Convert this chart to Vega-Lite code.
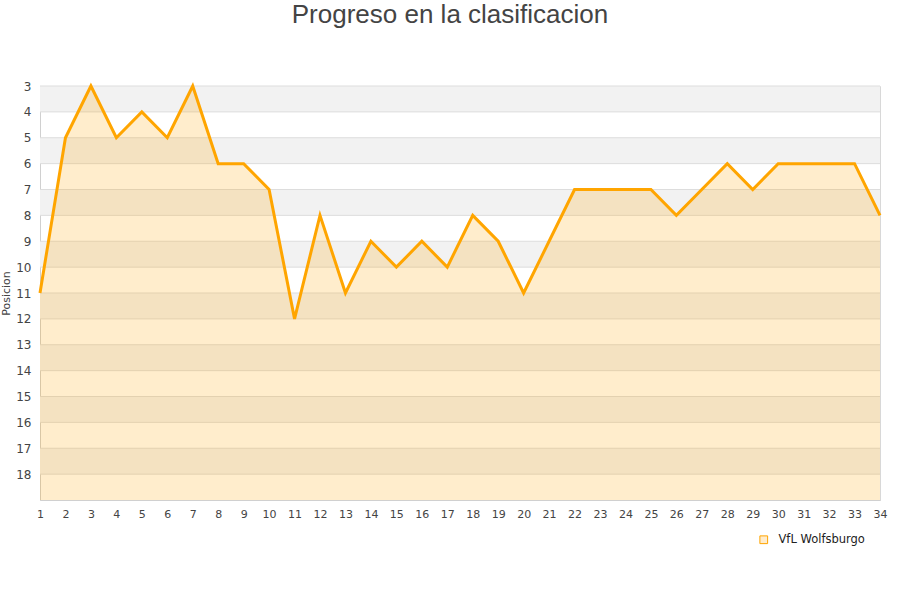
{
  "$schema": "https://vega.github.io/schema/vega-lite/v6.json",
  "width": 840,
  "height": 414,
  "autosize": {"type": "none"},
  "padding": {"left": 40, "top": 86, "right": 20, "bottom": 100},
  "background": "white",
  "title": {"text": "Progreso en la clasificacion", "fontSize": 26, "font": "Liberation Sans", "fontWeight": "normal", "color": "#444444", "anchor": "middle", "offset": 52, "dx": -10},
  "datasets": {
    "bands": [
      {"y0": 3, "y1": 4}, {"y0": 5, "y1": 6}, {"y0": 7, "y1": 8}, {"y0": 9, "y1": 10},
      {"y0": 11, "y1": 12}, {"y0": 13, "y1": 14}, {"y0": 15, "y1": 16}, {"y0": 17, "y1": 18}
    ],
    "grid": [
      {"g": 3}, {"g": 4}, {"g": 5}, {"g": 6}, {"g": 7}, {"g": 8}, {"g": 9}, {"g": 10},
      {"g": 11}, {"g": 12}, {"g": 13}, {"g": 14}, {"g": 15}, {"g": 16}, {"g": 17}, {"g": 18}
    ],
    "pos": [
      {"jornada": 1, "pos": 11, "team": "VfL Wolfsburgo"},
      {"jornada": 2, "pos": 5, "team": "VfL Wolfsburgo"},
      {"jornada": 3, "pos": 3, "team": "VfL Wolfsburgo"},
      {"jornada": 4, "pos": 5, "team": "VfL Wolfsburgo"},
      {"jornada": 5, "pos": 4, "team": "VfL Wolfsburgo"},
      {"jornada": 6, "pos": 5, "team": "VfL Wolfsburgo"},
      {"jornada": 7, "pos": 3, "team": "VfL Wolfsburgo"},
      {"jornada": 8, "pos": 6, "team": "VfL Wolfsburgo"},
      {"jornada": 9, "pos": 6, "team": "VfL Wolfsburgo"},
      {"jornada": 10, "pos": 7, "team": "VfL Wolfsburgo"},
      {"jornada": 11, "pos": 12, "team": "VfL Wolfsburgo"},
      {"jornada": 12, "pos": 8, "team": "VfL Wolfsburgo"},
      {"jornada": 13, "pos": 11, "team": "VfL Wolfsburgo"},
      {"jornada": 14, "pos": 9, "team": "VfL Wolfsburgo"},
      {"jornada": 15, "pos": 10, "team": "VfL Wolfsburgo"},
      {"jornada": 16, "pos": 9, "team": "VfL Wolfsburgo"},
      {"jornada": 17, "pos": 10, "team": "VfL Wolfsburgo"},
      {"jornada": 18, "pos": 8, "team": "VfL Wolfsburgo"},
      {"jornada": 19, "pos": 9, "team": "VfL Wolfsburgo"},
      {"jornada": 20, "pos": 11, "team": "VfL Wolfsburgo"},
      {"jornada": 21, "pos": 9, "team": "VfL Wolfsburgo"},
      {"jornada": 22, "pos": 7, "team": "VfL Wolfsburgo"},
      {"jornada": 23, "pos": 7, "team": "VfL Wolfsburgo"},
      {"jornada": 24, "pos": 7, "team": "VfL Wolfsburgo"},
      {"jornada": 25, "pos": 7, "team": "VfL Wolfsburgo"},
      {"jornada": 26, "pos": 8, "team": "VfL Wolfsburgo"},
      {"jornada": 27, "pos": 7, "team": "VfL Wolfsburgo"},
      {"jornada": 28, "pos": 6, "team": "VfL Wolfsburgo"},
      {"jornada": 29, "pos": 7, "team": "VfL Wolfsburgo"},
      {"jornada": 30, "pos": 6, "team": "VfL Wolfsburgo"},
      {"jornada": 31, "pos": 6, "team": "VfL Wolfsburgo"},
      {"jornada": 32, "pos": 6, "team": "VfL Wolfsburgo"},
      {"jornada": 33, "pos": 6, "team": "VfL Wolfsburgo"},
      {"jornada": 34, "pos": 8, "team": "VfL Wolfsburgo"}
    ]
  },
  "config": {
    "view": {"stroke": "#d8d8d8"},
    "axis": {"labelFont": "DejaVu Sans", "titleFont": "DejaVu Sans", "labelColor": "#444444", "titleColor": "#444444", "grid": false, "domainColor": "#d0d0d0", "ticks": false, "labelOverlap": false, "labelFlush": false, "zindex": 1}
  },
  "layer": [
    {
      "data": {"name": "bands"},
      "mark": {"type": "rect", "color": "#f2f2f2"},
      "encoding": {
        "y": {"field": "y0", "type": "quantitative", "scale": {"domain": [3, 19], "reverse": true, "nice": false, "zero": false},
          "axis": {"title": "Posicion", "titleFontSize": 11, "titleFontWeight": "normal", "titlePadding": 4, "labelFontSize": 12, "labelPadding": 9, "labelOverlap": false, "labelFlush": false, "values": [3,4,5,6,7,8,9,10,11,12,13,14,15,16,17,18]}},
        "y2": {"field": "y1"}
      }
    },
    {
      "data": {"name": "grid"},
      "mark": {"type": "rule", "color": "#dddddd", "strokeWidth": 1},
      "encoding": {
        "y": {"field": "g", "type": "quantitative",
          "axis": {"title": "Posicion", "titleFontSize": 11, "titleFontWeight": "normal", "titlePadding": 4, "labelFontSize": 12, "labelPadding": 9, "labelOverlap": false, "labelFlush": false, "values": [3,4,5,6,7,8,9,10,11,12,13,14,15,16,17,18]}}
      }
    },
    {
      "data": {"name": "pos"},
      "mark": {"type": "area", "color": "#FFA500", "opacity": 0.2},
      "encoding": {
        "x": {"field": "jornada", "type": "quantitative", "scale": {"domain": [1, 34], "nice": false, "zero": false},
          "axis": {"title": null, "values": [1,2,3,4,5,6,7,8,9,10,11,12,13,14,15,16,17,18,19,20,21,22,23,24,25,26,27,28,29,30,31,32,33,34], "labelFontSize": 11, "labelPadding": 8, "labelOverlap": false, "labelFlush": false}},
        "y": {"field": "pos", "type": "quantitative",
          "axis": {"title": "Posicion", "titleFontSize": 11, "titleFontWeight": "normal", "titlePadding": 4, "labelFontSize": 12, "labelPadding": 9, "labelOverlap": false, "labelFlush": false, "values": [3,4,5,6,7,8,9,10,11,12,13,14,15,16,17,18]}},
        "y2": {"datum": 19}
      }
    },
    {
      "data": {"name": "pos"},
      "mark": {"type": "line", "strokeWidth": 3, "color": "#FFA500"},
      "encoding": {
        "x": {"field": "jornada", "type": "quantitative",
          "axis": {"title": null, "values": [1,2,3,4,5,6,7,8,9,10,11,12,13,14,15,16,17,18,19,20,21,22,23,24,25,26,27,28,29,30,31,32,33,34], "labelFontSize": 11, "labelPadding": 8, "labelOverlap": false, "labelFlush": false}},
        "y": {"field": "pos", "type": "quantitative",
          "axis": {"title": "Posicion", "titleFontSize": 11, "titleFontWeight": "normal", "titlePadding": 4, "labelFontSize": 12, "labelPadding": 9, "labelOverlap": false, "labelFlush": false, "values": [3,4,5,6,7,8,9,10,11,12,13,14,15,16,17,18]}},
        "color": {"field": "team", "type": "nominal", "scale": {"range": ["#FFA500"]},
          "legend": {"title": null, "orient": "none", "legendX": 718, "legendY": 448, "symbolType": "square", "symbolSize": 60, "symbolFillColor": "#ffeccc", "symbolStrokeColor": "#FFA500", "symbolStrokeWidth": 1, "labelOffset": 9, "labelFont": "DejaVu Sans", "labelFontSize": 11.5, "labelColor": "#222222"}}
      }
    }
  ]
}
